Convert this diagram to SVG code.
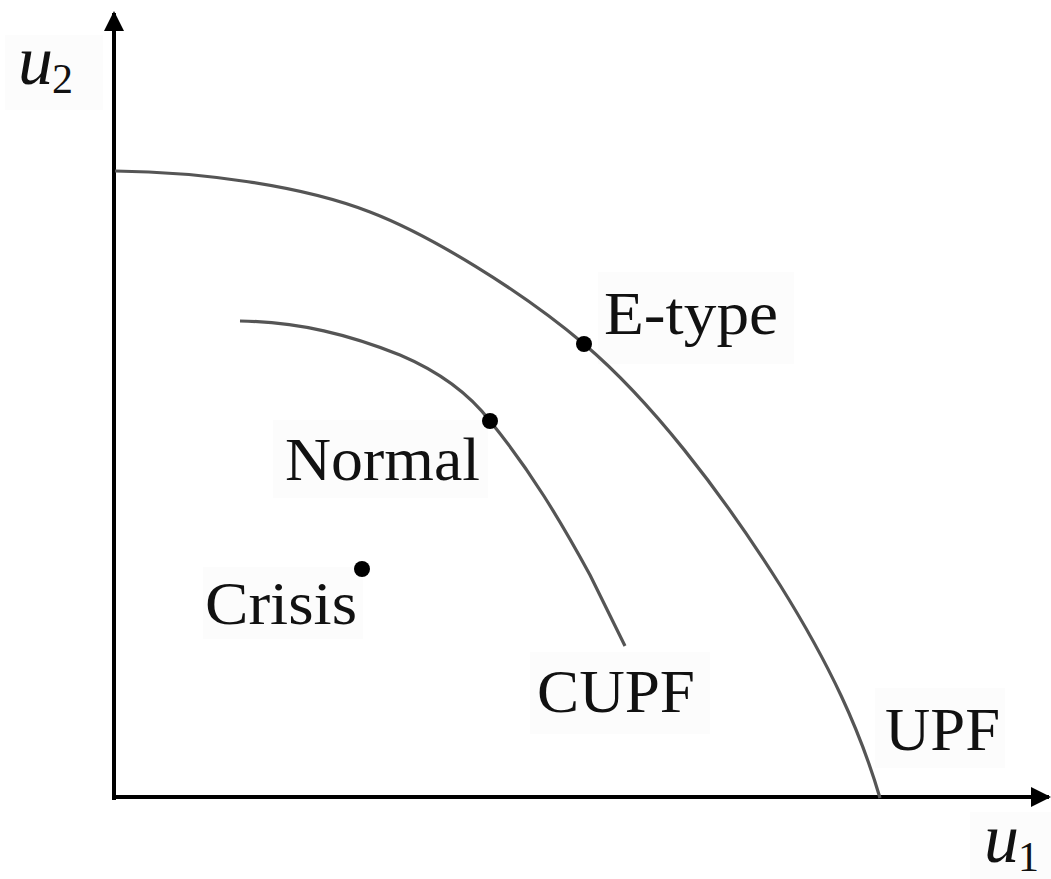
<svg xmlns="http://www.w3.org/2000/svg" width="1051" height="879" viewBox="0 0 1051 879">
<style>
.bg{fill:#fcfcfc}
.lbl{font-family:"Liberation Serif","DejaVu Serif",serif;font-size:62px;fill:#111}
.math{font-family:"Liberation Serif","DejaVu Serif",serif;font-style:italic;fill:#111}
.sub{font-family:"Liberation Serif","DejaVu Serif",serif;fill:#111}
.axis{stroke:#000;stroke-width:4;fill:none}
.curve{stroke:#555;stroke-width:3.2;fill:none}
.dot{fill:#000}
</style>
<defs>
<marker id="arr" viewBox="0 0 10 10" refX="9" refY="5" markerWidth="5" markerHeight="5" markerUnits="strokeWidth" orient="auto">
<path d="M0,0 L10,5 L0,10 Z" fill="#000"/>
</marker>
</defs>
<rect width="1051" height="879" fill="#fff"/>
<g id="label-bgs">
<rect class="bg" x="5" y="35" width="98" height="75"/>
<rect class="bg" x="598" y="272" width="196" height="92"/>
<rect class="bg" x="273" y="420" width="215" height="78"/>
<rect class="bg" x="203" y="567" width="160" height="72"/>
<rect class="bg" x="530" y="652" width="180" height="82"/>
<rect class="bg" x="875" y="688" width="130" height="80"/>
<rect class="bg" x="970" y="812" width="81" height="67"/>
</g>
<g id="axes">
<line class="axis" x1="114" y1="800" x2="114" y2="13" marker-end="url(#arr)"/>
<line class="axis" x1="112" y1="797" x2="1049" y2="797" marker-end="url(#arr)"/>
</g>
<g id="connectors">
<path id="upf-curve" class="curve" d="M115,171 C200,172 300,185 370,212 C430,235 520,290 584,344 C650,400 720,490 780,585 C830,665 860,730 880,798"/>
<path id="cupf-curve" class="curve" d="M240,321 C300,322 350,335 400,355 C440,372 470,395 490,421 C530,470 560,520 590,575 C605,605 617,630 625,646"/>
</g>
<g id="node-etype">
<circle class="dot" cx="584" cy="344" r="8"/>
<text class="lbl" x="604" y="334" textLength="174" lengthAdjust="spacingAndGlyphs">E-type</text>
</g>
<g id="node-normal">
<circle class="dot" cx="490" cy="421" r="8"/>
<text class="lbl" x="285" y="480" textLength="195" lengthAdjust="spacingAndGlyphs">Normal</text>
</g>
<g id="node-crisis">
<circle class="dot" cx="362" cy="569" r="8"/>
<text class="lbl" x="205" y="624" textLength="152" lengthAdjust="spacingAndGlyphs">Crisis</text>
</g>
<g id="label-cupf">
<text class="lbl" x="537" y="712" textLength="158" lengthAdjust="spacingAndGlyphs">CUPF</text>
</g>
<g id="label-upf">
<text class="lbl" x="885" y="750" textLength="115" lengthAdjust="spacingAndGlyphs">UPF</text>
</g>
<g id="label-u2">
<text class="math" x="18" y="84" font-size="70">u</text>
<text class="sub" x="52" y="93" font-size="42">2</text>
</g>
<g id="label-u1">
<text class="math" x="984" y="862" font-size="70">u</text>
<text class="sub" x="1018" y="871" font-size="42">1</text>
</g>
</svg>
